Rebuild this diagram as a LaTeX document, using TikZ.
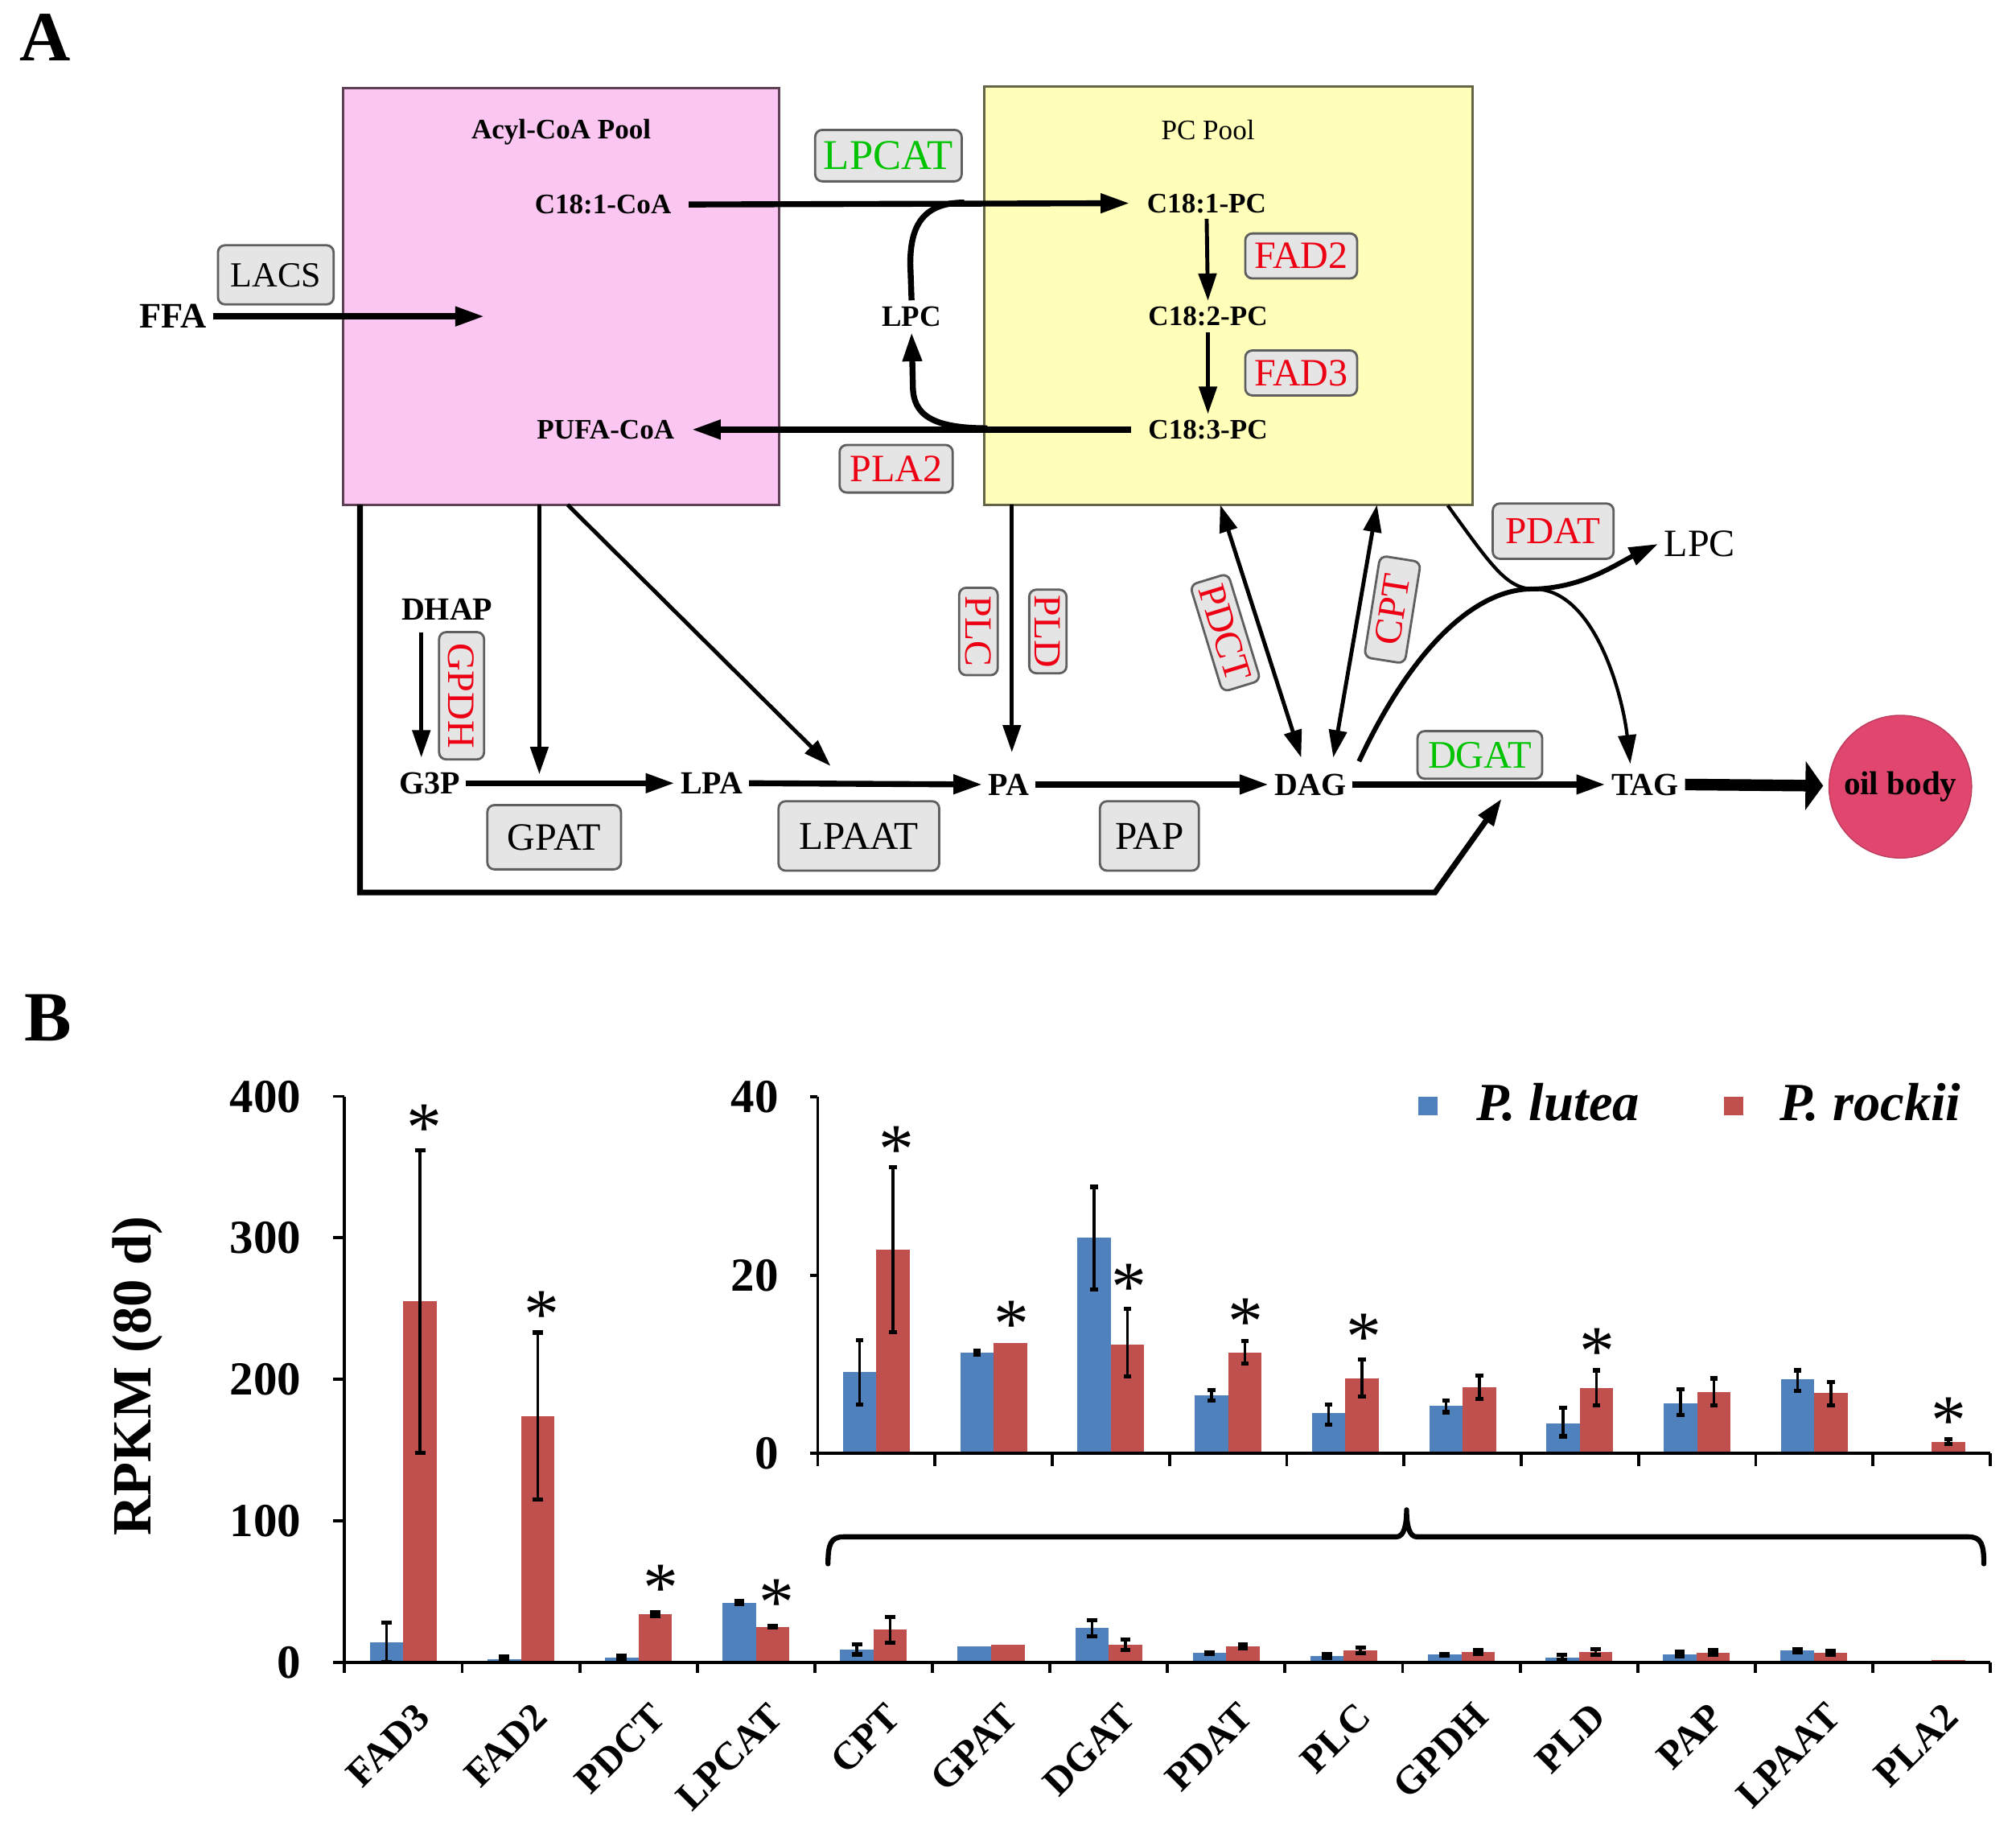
\documentclass[tikz,border=0pt]{standalone}
\usepackage{fontspec}
\setmainfont{Liberation Serif}
\usetikzlibrary{arrows.meta,calc}
\definecolor{pinkpool}{RGB}{252,198,242}
\definecolor{pinkedge}{RGB}{95,65,85}
\definecolor{yellowpool}{RGB}{255,255,185}
\definecolor{yellowedge}{RGB}{100,100,70}
\definecolor{boxgray}{RGB}{229,229,229}
\definecolor{boxedge}{RGB}{95,95,95}
\definecolor{enzred}{RGB}{238,0,20}
\definecolor{enzgreen}{RGB}{0,195,0}
\definecolor{oilbody}{RGB}{224,70,110}
\definecolor{barblue}{RGB}{79,129,189}
\definecolor{barred}{RGB}{192,80,77}
\newcommand{\fsz}[1]{\fontsize{#1}{#1}\selectfont}
\begin{document}
\begin{tikzpicture}[x=0.016cm,y=-0.016cm,
  >={Triangle[length=0.36cm,width=0.23cm]},
  met/.style={font=\fsz{11.4}\bfseries, inner sep=2pt, text depth=0pt},
  pmet/.style={font=\fsz{10}\bfseries, inner xsep=6pt, inner ysep=2pt, text depth=0pt},
  ebox/.style={draw=boxedge, fill=boxgray, rounded corners=2.5pt, line width=0.8pt, inner sep=0pt, text depth=0pt},
  thk/.style={line width=2.1pt},
  thn/.style={line width=1.4pt, >={Triangle[length=0.34cm,width=0.22cm]}},
  axisl/.style={line width=1.1pt},
  errl/.style={line width=1.0pt},
  errc/.style={line width=1.5pt},
  ytl/.style={font=\fsz{16.8}\bfseries, anchor=east, inner sep=0pt, text depth=0pt},
  xtl/.style={font=\fsz{14}\bfseries, anchor=north east, rotate=45, inner sep=0pt},
  starl/.style={font=\fsz{25}, anchor=base, inner sep=0pt},
  panel/.style={font=\fsz{25}\bfseries, inner sep=0pt, text depth=0pt}
]
\useasboundingbox (0,0) rectangle (1568,1419);

% ================= Panel A =================
\node[panel] (labA) at (35,29) {A};

\node[draw=pinkedge, fill=pinkpool, line width=0.9pt, inner sep=0pt,
      minimum width=5.426cm, minimum height=5.186cm] (acylpool) at (436.5,230.5) {};
\node[draw=yellowedge, fill=yellowpool, line width=0.9pt, inner sep=0pt,
      minimum width=6.08cm, minimum height=5.208cm] (pcpool) at (955.4,229.75) {};

\node[font=\fsz{10}\bfseries, text depth=0pt] (acyltitle) at (436.5,100.6) {Acyl-CoA Pool};
\node[font=\fsz{10}, text depth=0pt] (pctitle) at (939.5,101) {PC Pool};

\node[pmet] (c181coa) at (469,159) {C18:1-CoA};
\node[pmet] (pufacoa) at (471,334) {PUFA-CoA};
\node[pmet] (c181pc) at (938.5,158) {C18:1-PC};
\node[pmet] (c182pc) at (939.5,246) {C18:2-PC};
\node[pmet] (c183pc) at (939.5,334) {C18:3-PC};
\node[font=\fsz{10.5}\bfseries, inner sep=2pt, text depth=0pt] (lpcL) at (709,246) {LPC};
\node[font=\fsz{12.7}\bfseries, inner sep=2pt, text depth=0pt] (ffa) at (134.7,246) {FFA};

\node[met] (dhap) at (347.7,473.7) {DHAP};
\node[met] (g3p) at (334,609) {G3P};
\node[met] (lpa) at (553.6,609) {LPA};
\node[met] (pa) at (784.6,610) {PA};
\node[met] (dag) at (1019.3,610) {DAG};
\node[met] (tag) at (1279.6,610) {TAG};
\node[font=\fsz{13.7}, inner sep=2pt, text depth=0pt] (lpcR) at (1322,423) {LPC};
\node[circle, fill=oilbody, draw=oilbody!85!black, line width=0.4pt, minimum size=1.776cm, inner sep=0pt,
      font=\fsz{11.7}\bfseries] (oil) at (1478,611.7) {oil body};

% enzyme boxes
\node[ebox, font=\fsz{12.5}, minimum width=1.44cm, minimum height=0.736cm] (lacs) at (214.5,213.7) {LACS};
\node[ebox, font=\fsz{15}, text=enzgreen, minimum width=1.824cm, minimum height=0.64cm] (lpcat) at (691,121) {LPCAT};
\node[ebox, font=\fsz{13.7}, text=enzred, minimum width=1.408cm, minimum height=0.592cm] (pla2) at (697,364.5) {PLA2};
\node[ebox, font=\fsz{13.7}, text=enzred, minimum width=1.392cm, minimum height=0.56cm] (fad2) at (1012,199) {FAD2};
\node[ebox, font=\fsz{13.7}, text=enzred, minimum width=1.392cm, minimum height=0.56cm] (fad3) at (1012,290) {FAD3};
\node[ebox, font=\fsz{13.7}, minimum width=1.664cm, minimum height=0.8cm] (gpat) at (431,651) {GPAT};
\node[ebox, font=\fsz{14}, minimum width=2.0cm, minimum height=0.864cm] (lpaat) at (668,650) {LPAAT};
\node[ebox, font=\fsz{14}, minimum width=1.232cm, minimum height=0.864cm] (pap) at (894,650) {PAP};
\node[ebox, font=\fsz{13.8}, text=enzgreen, minimum width=1.552cm, minimum height=0.592cm] (dgat) at (1151,587) {DGAT};
\node[ebox, font=\fsz{13.5}, text=enzred, minimum width=1.504cm, minimum height=0.688cm] (pdat) at (1208,413) {PDAT};
\node[ebox, font=\fsz{13.7}, text=enzred, rotate=-90, minimum width=1.584cm, minimum height=0.56cm] (gpdh) at (359,541) {GPDH};
\node[ebox, font=\fsz{13.6}, text=enzred, rotate=-90, minimum width=1.088cm, minimum height=0.48cm] (plc) at (761,491) {PLC};
\node[ebox, font=\fsz{13.6}, text=enzred, rotate=-90, minimum width=1.04cm, minimum height=0.464cm] (pld) at (815,491) {PLD};
\node[ebox, font=\fsz{13.7}, text=enzred, rotate=-73, minimum width=1.392cm, minimum height=0.496cm] (pdct) at (953,492) {PDCT};
\node[ebox, font=\fsz{13.7}, text=enzred, rotate=81, minimum width=1.28cm, minimum height=0.512cm] (cpt) at (1083,474) {CPT};

% named points
\coordinate (ffatip) at (376.6,246);
\coordinate (j1) at (750,157.5);
\coordinate (j2) at (768,333);
\coordinate (pb1) at (280,392.5);
\coordinate (bl1) at (280,694);
\coordinate (bl2) at (1116,694);
\coordinate (dgattip) at (1168,621);
\coordinate (pb2) at (419.5,392.5);
\coordinate (gpattip) at (419.5,602);
\coordinate (pb3) at (441.5,392.5);
\coordinate (lpaattip) at (646,595.6);
\coordinate (dhapS) at (327.7,491.6);
\coordinate (dhapE) at (327.7,589);
\coordinate (yb1) at (787,392.5);
\coordinate (patip) at (787,585);
\coordinate (yb2) at (949,392.5);
\coordinate (dagL) at (1012,589);
\coordinate (yb3) at (1071,392.5);
\coordinate (dagR) at (1037,589);
\coordinate (yb4) at (1126,393);
\coordinate (xc) at (1193,458);
\coordinate (tagtip) at (1268,594);
\coordinate (dagtop) at (1057,592);
\coordinate (oiltip) at (1418,611);

% connectors
\draw[thk,->] (ffa.east) -- (ffatip);
\draw[thk,->] (c181coa.east) -- (c181pc.west);
\draw[thk,->] (c183pc.west) -- (pufacoa.east);
\draw[thn,->] (c181pc.south) -- (c182pc.north);
\draw[thn,->] (c182pc.south) -- (c183pc.north);
\draw[thk] (j1) .. controls (716,157.5) and (708,178) .. (708,205) -- (lpcL.north);
\draw[thk,->] (j2) .. controls (724,333) and (710,322) .. (710,300) -- (lpcL.south);

\draw[line width=2pt, >={Triangle[length=0.34cm,width=0.22cm]}, ->] (pb1) -- (bl1) -- (bl2) -- (dgattip);
\draw[thn,->] (pb2) -- (gpattip);
\draw[thn,->] (pb3) -- (lpaattip);
\draw[thn,->] (dhapS) -- (dhapE);
\draw[thk,->] (g3p.east) -- (lpa.west);
\draw[thk,->] (lpa.east) -- (pa.west);
\draw[thk,->] (pa.east) -- (dag.west);
\draw[thk,->] (dag.east) -- (tag.west);
\draw[line width=4.1pt, -{Triangle[length=0.22cm,width=0.6cm]}] (tag.east) -- (oiltip);
\draw[thn,->] (yb1) -- (patip);
\draw[thn,<->] (yb2) -- (dagL);
\draw[thn,<->] (yb3) -- (dagR);
\draw[line width=1.2pt, >={Triangle[length=0.36cm,width=0.22cm]}, ->] (yb4) .. controls (1160,440) and (1172,458) .. (xc) .. controls (1240,458) and (1262,540) .. (tagtip);
\draw[line width=1.7pt, >={Triangle[length=0.36cm,width=0.23cm]}, ->] (dagtop) .. controls (1100,500) and (1150,457) .. (xc) .. controls (1232,457) and (1258,438) .. (lpcR.west);

% ================= Panel B =================
\node[panel] (labB) at (37.5,791.5) {B};

% bars
\foreach \i/\b/\bl/\bh/\r/\rl/\rh in {
 0/14/0/28/255/148/362,
 1/2/1/4/174/115/233,
 2/3/2/4.5/34/32.5/35.5,
 3/42/41/43.5/25/24.5/25.5,
 4/9.1/5.5/12.7/22.9/13.6/32.1,
 5/11.3/11.1/11.5/12.4/12.35/12.45,
 6/24.2/18.4/29.9/12.2/8.6/16.2,
 7/6.5/5.9/7.1/11.3/10.1/12.6,
 8/4.5/3.2/5.5/8.4/6.4/10.5,
 9/5.3/4.6/5.9/7.4/6.1/8.7,
 10/3.3/1.9/5.1/7.3/5.4/9.3,
 11/5.6/4.3/7.2/6.9/5.4/8.4,
 12/8.3/7.0/9.3/6.8/5.4/8.0,
 13/0/0/0/1.3/1.05/1.55}
{
 \pgfmathsetmacro\c{268+91.43*(\i+0.5)}
 \fill[barblue] ({\c-26},{1292.5-1.1*\b}) rectangle (\c,1292.5);
 \fill[barred] (\c,{1292.5-1.1*\r}) rectangle ({\c+26},1292.5);
 \pgfmathtruncatemacro\eb{(\bh-\bl)>0.5}
 \ifnum\eb=1
  \draw[errl] ({\c-13},{1292.5-1.1*\bl}) -- ({\c-13},{1292.5-1.1*\bh});
  \draw[errc] ({\c-17},{1292.5-1.1*\bl}) -- ({\c-9},{1292.5-1.1*\bl});
  \draw[errc] ({\c-17},{1292.5-1.1*\bh}) -- ({\c-9},{1292.5-1.1*\bh});
 \fi
 \pgfmathtruncatemacro\er{(\rh-\rl)>0.5}
 \ifnum\er=1
  \draw[errl] ({\c+13},{1292.5-1.1*\rl}) -- ({\c+13},{1292.5-1.1*\rh});
  \draw[errc] ({\c+9},{1292.5-1.1*\rl}) -- ({\c+17},{1292.5-1.1*\rl});
  \draw[errc] ({\c+9},{1292.5-1.1*\rh}) -- ({\c+17},{1292.5-1.1*\rh});
 \fi
 \ifnum\i>3
  \pgfmathsetmacro\d{636+91.2*(\i-3.5)}
  \fill[barblue] ({\d-26},{1130-6.925*\b}) rectangle (\d,1130);
  \fill[barred] (\d,{1130-6.925*\r}) rectangle ({\d+26},1130);
  \pgfmathtruncatemacro\ebi{(\bh-\bl)>0.1}
  \ifnum\ebi=1
   \draw[errl] ({\d-13},{1130-6.925*\bl}) -- ({\d-13},{1130-6.925*\bh});
   \draw[errc] ({\d-16},{1130-6.925*\bl}) -- ({\d-10},{1130-6.925*\bl});
   \draw[errc] ({\d-16},{1130-6.925*\bh}) -- ({\d-10},{1130-6.925*\bh});
  \fi
  \pgfmathtruncatemacro\eri{(\rh-\rl)>0.15}
  \ifnum\eri=1
   \draw[errl] ({\d+13},{1130-6.925*\rl}) -- ({\d+13},{1130-6.925*\rh});
   \draw[errc] ({\d+10},{1130-6.925*\rl}) -- ({\d+16},{1130-6.925*\rl});
   \draw[errc] ({\d+10},{1130-6.925*\rh}) -- ({\d+16},{1130-6.925*\rh});
  \fi
 \fi
}

% main axes
\draw[axisl] (268,852.5) -- (268,1292.5) -- (1548,1292.5);
\foreach \v in {0,100,200,300,400} {
  \draw[axisl] (259,{1292.5-1.1*\v}) -- (268,{1292.5-1.1*\v});
  \node[ytl] (ym\v) at (234.5,{1292.5-1.1*\v}) {\v};
}
\foreach \k in {0,...,14} \draw[axisl] ({268+91.43*\k},1292.5) -- ({268+91.43*\k},1301);
\foreach \n [count=\i from 0] in {FAD3,FAD2,PDCT,LPCAT,CPT,GPAT,DGAT,PDAT,PLC,GPDH,PLD,PAP,LPAAT,PLA2}
  \node[xtl] (xl\i) at ({268+91.43*(\i+0.5)+8},1322) {\n};
\node[font=\fsz{19.6}\bfseries, rotate=90, inner sep=0pt] (ylab) at (107,1070) {RPKM (80 d)};

% inset axes
\draw[axisl] (636,853) -- (636,1130) -- (1548,1130);
\foreach \v in {0,20,40} {
  \draw[axisl] (630,{1130-6.925*\v}) -- (636,{1130-6.925*\v});
  \node[ytl] (yi\v) at (606,{1130-6.925*\v}) {\v};
}
\foreach \k in {0,...,10} \draw[axisl] ({636+91.2*\k},1130) -- ({636+91.2*\k},1140);

% stars
\node[starl] (st1) at (330,895) {*};
\node[starl] (st2) at (421.5,1040) {*};
\node[starl] (st3) at (514,1253) {*};
\node[starl] (st4) at (604,1264) {*};
\node[starl] (st5) at (697,912) {*};
\node[starl] (st6) at (787,1048) {*};
\node[starl] (st7) at (878,1019) {*};
\node[starl] (st8) at (969,1046) {*};
\node[starl] (st9) at (1061,1058) {*};
\node[starl] (st10) at (1242,1069) {*};
\node[starl] (st11) at (1516,1123) {*};

% legend
\fill[barblue] (1103,852.5) rectangle (1118,867.5);
\fill[barred] (1341,852.5) rectangle (1356,867.5);
\node[font=\fsz{19}\bfseries\itshape, anchor=base west, inner sep=0pt] (leg1) at (1148,871) {P. lutea};
\node[font=\fsz{19}\bfseries\itshape, anchor=base west, inner sep=0pt] (leg2) at (1384,871) {P. rockii};

% brace
\draw[line width=1.8pt, line cap=round, line join=round]
  (644,1216) .. controls (644,1201) and (646,1195) .. (656,1195) -- (1086,1195)
  .. controls (1092,1195) and (1094,1186) .. (1094,1174)
  .. controls (1094,1186) and (1096,1195) .. (1102,1195) -- (1531,1195)
  .. controls (1541,1195) and (1543,1201) .. (1543,1216);
\end{tikzpicture}
\end{document}
